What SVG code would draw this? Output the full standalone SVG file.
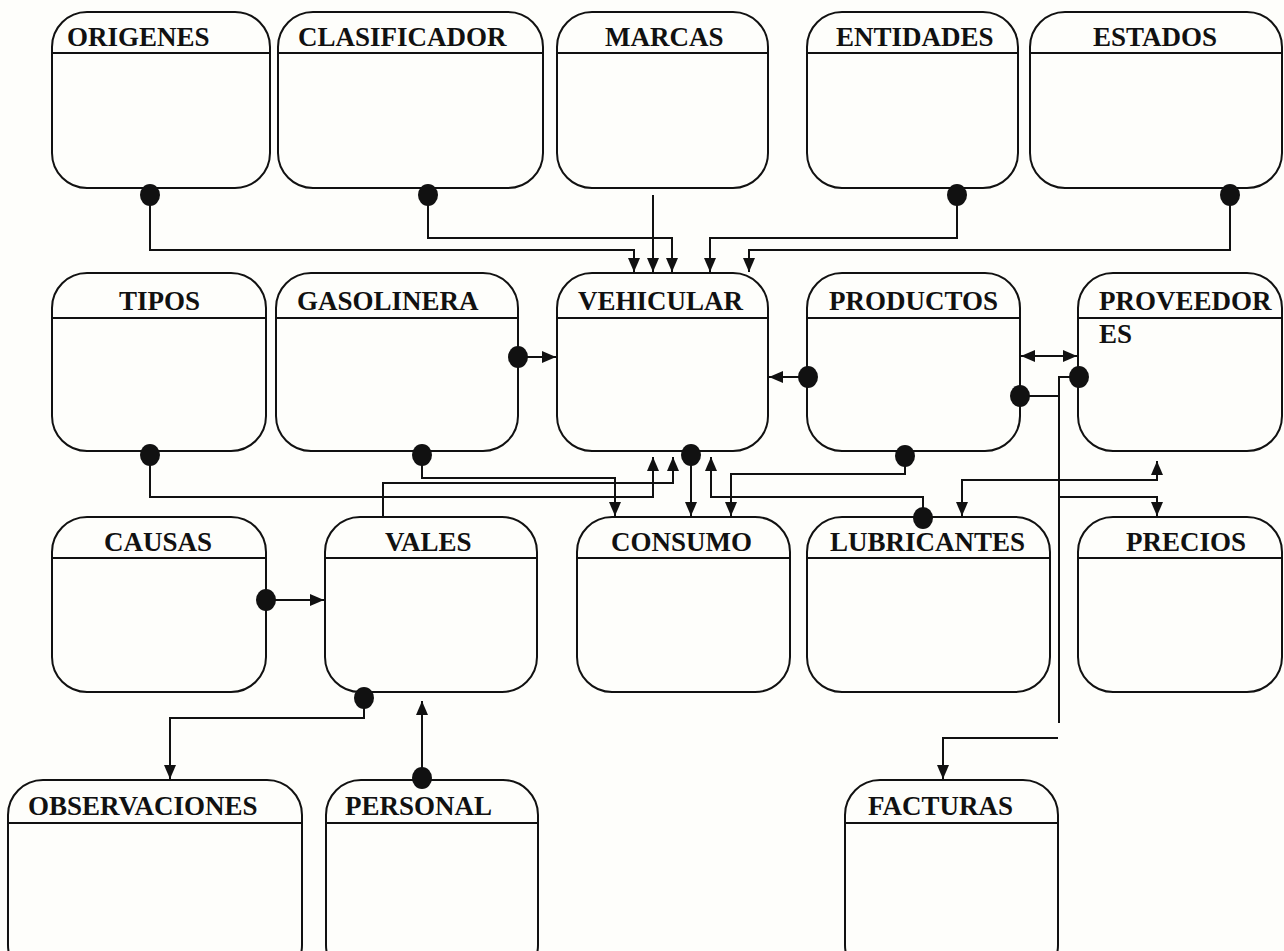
<svg xmlns="http://www.w3.org/2000/svg" width="1284" height="951" viewBox="0 0 1284 951">
<defs>
<marker id="ah" viewBox="0 0 14 12" refX="14" refY="6" markerWidth="14" markerHeight="12" markerUnits="userSpaceOnUse" orient="auto-start-reverse">
<path d="M0,0 L14,6 L0,12 z" fill="#111"/>
</marker>
<style>
.box{fill:none;stroke:#111;stroke-width:2}
.hl{stroke:#111;stroke-width:2}
.t{font-family:"Liberation Serif","Times New Roman",serif;font-weight:bold;font-size:27px;fill:#111}
.c{fill:none;stroke:#111;stroke-width:2}
.a{marker-end:url(#ah)}
.d{fill:#111}
</style>
</defs>
<rect width="1284" height="951" fill="#fefefb"/>
<g id="origenes"><rect class="box" x="52" y="12" width="218" height="176" rx="35"/><line class="hl" x1="52" y1="53" x2="270" y2="53"/><text class="t" x="67" y="46">ORIGENES</text></g>
<g id="clasificador"><rect class="box" x="278" y="12" width="265" height="176" rx="35"/><line class="hl" x1="278" y1="53" x2="543" y2="53"/><text class="t" x="298" y="46">CLASIFICADOR</text></g>
<g id="marcas"><rect class="box" x="557" y="12" width="211" height="176" rx="35"/><line class="hl" x1="557" y1="53" x2="768" y2="53"/><text class="t" x="605" y="46">MARCAS</text></g>
<g id="entidades"><rect class="box" x="807" y="12" width="211" height="176" rx="35"/><line class="hl" x1="807" y1="53" x2="1018" y2="53"/><text class="t" x="836" y="46">ENTIDADES</text></g>
<g id="estados"><rect class="box" x="1030" y="12" width="252" height="176" rx="35"/><line class="hl" x1="1030" y1="53" x2="1282" y2="53"/><text class="t" x="1093" y="46">ESTADOS</text></g>
<g id="tipos"><rect class="box" x="52" y="273" width="214" height="178" rx="35"/><line class="hl" x1="52" y1="318" x2="266" y2="318"/><text class="t" x="119" y="310">TIPOS</text></g>
<g id="gasolinera"><rect class="box" x="276" y="273" width="242" height="178" rx="35"/><line class="hl" x1="276" y1="318" x2="518" y2="318"/><text class="t" x="297" y="310">GASOLINERA</text></g>
<g id="vehicular"><rect class="box" x="557" y="273" width="211" height="178" rx="35"/><line class="hl" x1="557" y1="318" x2="768" y2="318"/><text class="t" x="578" y="310">VEHICULAR</text></g>
<g id="productos"><rect class="box" x="807" y="273" width="213" height="178" rx="35"/><line class="hl" x1="807" y1="318" x2="1020" y2="318"/><text class="t" x="829" y="310">PRODUCTOS</text></g>
<g id="proveedores"><rect class="box" x="1078" y="273" width="204" height="178" rx="35"/><line class="hl" x1="1078" y1="318" x2="1282" y2="318"/><text class="t" x="1099" y="310">PROVEEDOR</text><text class="t" x="1099" y="343">ES</text></g>
<g id="causas"><rect class="box" x="52" y="517" width="214" height="175" rx="35"/><line class="hl" x1="52" y1="558" x2="266" y2="558"/><text class="t" x="104" y="551">CAUSAS</text></g>
<g id="vales"><rect class="box" x="325" y="517" width="212" height="175" rx="35"/><line class="hl" x1="325" y1="558" x2="537" y2="558"/><text class="t" x="385" y="551">VALES</text></g>
<g id="consumo"><rect class="box" x="577" y="517" width="213" height="175" rx="35"/><line class="hl" x1="577" y1="558" x2="790" y2="558"/><text class="t" x="611" y="551">CONSUMO</text></g>
<g id="lubricantes"><rect class="box" x="807" y="517" width="243" height="175" rx="35"/><line class="hl" x1="807" y1="558" x2="1050" y2="558"/><text class="t" x="830" y="551">LUBRICANTES</text></g>
<g id="precios"><rect class="box" x="1078" y="517" width="204" height="175" rx="35"/><line class="hl" x1="1078" y1="558" x2="1282" y2="558"/><text class="t" x="1126" y="551">PRECIOS</text></g>
<g id="observaciones"><rect class="box" x="8" y="780" width="294" height="200" rx="35"/><line class="hl" x1="8" y1="823" x2="302" y2="823"/><text class="t" x="28" y="815">OBSERVACIONES</text></g>
<g id="personal"><rect class="box" x="326" y="780" width="212" height="200" rx="35"/><line class="hl" x1="326" y1="823" x2="538" y2="823"/><text class="t" x="345" y="815">PERSONAL</text></g>
<g id="facturas"><rect class="box" x="845" y="780" width="213" height="200" rx="35"/><line class="hl" x1="845" y1="823" x2="1058" y2="823"/><text class="t" x="868" y="815">FACTURAS</text></g>
<g id="connectors">
<path class="c a" d="M150,195 V250 H634 V272"/>
<path class="c a" d="M428,195 V238 H672 V272"/>
<path class="c a" d="M653,195 V272"/>
<path class="c a" d="M957,195 V238 H710 V272"/>
<path class="c a" d="M1230,195 V250 H749 V272"/>
<path class="c a" d="M518,357 H556"/>
<path class="c a" d="M808,377 H769"/>
<path class="c a" d="M1021,356 H1077" marker-start="url(#ah)"/>
<path class="c" d="M1079,377 H1059 V723"/>
<path class="c" d="M1020,396 H1059"/>
<path class="c a" d="M1059,497 H1157 V516"/>
<path class="c a" d="M1058,738 H943 V779"/>
<path class="c a" d="M962,516 V480 H1157 V461" marker-start="url(#ah)"/>
<path class="c a" d="M905,456 V474 H731 V516"/>
<path class="c a" d="M923,518 V497 H711 V457"/>
<path class="c a" d="M691,455 V516"/>
<path class="c a" d="M150,455 V497 H653 V457"/>
<path class="c a" d="M422,455 V478 H615 V516"/>
<path class="c a" d="M383,517 V483 H673 V457"/>
<path class="c a" d="M266,600 H324"/>
<path class="c a" d="M364,698 V718 H170 V779"/>
<path class="c a" d="M422,778 V701"/>
<ellipse class="d" cx="150" cy="195" rx="10" ry="11"/>
<ellipse class="d" cx="428" cy="195" rx="10" ry="11"/>
<ellipse class="d" cx="957" cy="195" rx="10" ry="11"/>
<ellipse class="d" cx="1230" cy="195" rx="10" ry="11"/>
<ellipse class="d" cx="518" cy="357" rx="10" ry="11"/>
<ellipse class="d" cx="808" cy="377" rx="10" ry="11"/>
<ellipse class="d" cx="1079" cy="377" rx="10" ry="11"/>
<ellipse class="d" cx="1020" cy="396" rx="10" ry="11"/>
<ellipse class="d" cx="905" cy="456" rx="10" ry="11"/>
<ellipse class="d" cx="923" cy="518" rx="10" ry="11"/>
<ellipse class="d" cx="691" cy="455" rx="10" ry="11"/>
<ellipse class="d" cx="150" cy="455" rx="10" ry="11"/>
<ellipse class="d" cx="422" cy="455" rx="10" ry="11"/>
<ellipse class="d" cx="266" cy="600" rx="10" ry="11"/>
<ellipse class="d" cx="364" cy="698" rx="10" ry="11"/>
<ellipse class="d" cx="422" cy="778" rx="10" ry="11"/>
</g>
</svg>
